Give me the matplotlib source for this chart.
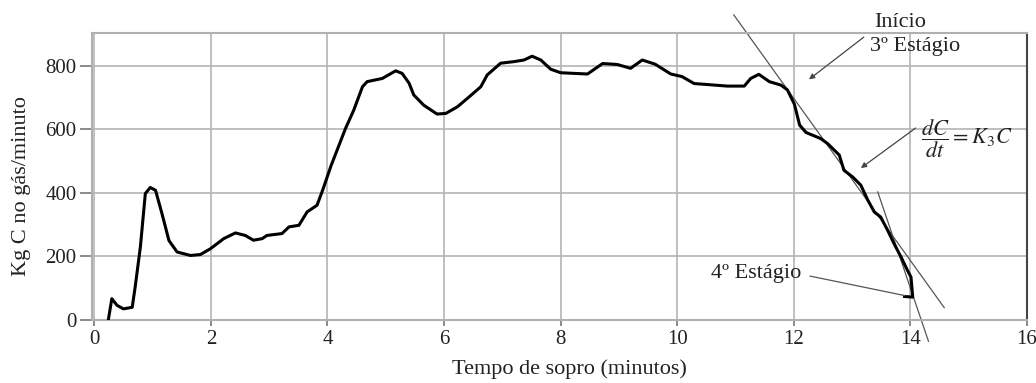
import matplotlib
matplotlib.use("Agg")
import matplotlib.pyplot as plt

plt.rcParams["font.family"] = ["Liberation Serif", "DejaVu Serif"]
plt.rcParams["mathtext.fontset"] = "stix"

# carbon rate in the off-gas during the blow
tempo = [0.24, 0.30, 0.39, 0.50, 0.65, 0.70, 0.79, 0.875, 0.96, 1.05, 1.16, 1.28,
         1.42, 1.65, 1.82, 1.99, 2.22, 2.42, 2.59, 2.73, 2.88, 2.96, 3.22, 3.34,
         3.51, 3.65, 3.82, 3.92, 4.06, 4.31, 4.45, 4.60, 4.68, 4.94, 5.17, 5.28,
         5.40, 5.48, 5.65, 5.88, 6.03, 6.23, 6.43, 6.63, 6.74, 6.97, 7.20, 7.37,
         7.51, 7.66, 7.83, 8.00, 8.46, 8.72, 8.97, 9.20, 9.40, 9.62, 9.89, 10.08,
         10.29, 10.58, 10.86, 11.15, 11.26, 11.40, 11.58, 11.78, 11.89, 12.01,
         12.10, 12.21, 12.46, 12.58, 12.78, 12.86, 13.01, 13.15, 13.27, 13.38,
         13.49, 13.61, 13.72, 13.84, 13.95, 14.01, 14.04, 13.90]
carbono = [0, 67, 46, 35, 40, 103, 230, 398, 417, 408, 335, 250,
           214, 203, 206, 224, 256, 274, 266, 251, 256, 266, 272, 293,
           298, 340, 361, 410, 485, 603, 660, 734, 750, 760, 784, 776,
           745, 708, 676, 648, 650, 671, 702, 734, 771, 808, 813, 818,
           830, 818, 789, 778, 774, 807, 804, 792, 818, 805, 774, 766,
           744, 740, 736, 736, 760, 773, 750, 739, 724, 679,
           613, 590, 571, 555, 519, 471, 450, 424, 377, 340,
           324, 282, 240, 198, 156, 135, 72, 74]

# tangent lines for the 3rd and 4th stages (t, C at both ends)
tang3_t = [10.97, 14.58]
tang3_c = [960, 39]
tang4_t = [13.44, 14.31]
tang4_c = [403, -67]

xticks = [0, 2, 4, 6, 8, 10, 12, 14, 16]
yticks = [0, 200, 400, 600, 800]

fig = plt.figure(figsize=(10.36, 3.83), dpi=100)
ax = fig.add_axes([0.0888, 0.1645, 0.9025, 0.7493])

ax.plot(tempo, carbono, color="black", lw=2.2, solid_joinstyle="round", zorder=3)
ax.plot(tang3_t, tang3_c, color="#555555", lw=0.9, clip_on=False, zorder=2)
ax.plot(tang4_t, tang4_c, color="#555555", lw=0.9, clip_on=False, zorder=2)

ax.set_xlim(-0.04, 16)
ax.set_ylim(0, 903)
ax.set_xticks(xticks)
ax.set_yticks(yticks)
ax.grid(True, color="#b4b4b4", lw=1.2)
ax.set_axisbelow(True)
ax.tick_params(axis="both", labelsize=15, colors="#222222")
ax.tick_params(axis="y", length=9, width=1.2, color="#777777", pad=2)
ax.tick_params(axis="x", length=4, width=1.2, color="#777777", pad=3)
for side in ["top", "left", "bottom"]:
    ax.spines[side].set_color("#b0b0b0")
    ax.spines[side].set_linewidth(1.5)
ax.spines["right"].set_color("#444444")
ax.spines["right"].set_linewidth(1.5)

ax.set_xlabel("Tempo de sopro (minutos)", fontsize=16, color="#222222")
ax.set_ylabel("Kg C no gás/minuto", fontsize=16, color="#222222")
ax.xaxis.set_label_coords(0.511, -0.136)
ax.yaxis.set_label_coords(-0.065, 0.467)

arrow = dict(arrowstyle="-|>", color="#444444", lw=0.9, mutation_scale=8,
             shrinkA=0, shrinkB=0)

ax.text(13.83, 935, "Início", fontsize=16, ha="center", va="center",
        color="#222222", clip_on=False)
ax.text(13.31, 860, "3º Estágio", fontsize=16, ha="left", va="center",
        color="#222222", clip_on=False)
ax.annotate("", xy=(12.26, 757), xytext=(13.2, 890), arrowprops=arrow,
            annotation_clip=False)

ax.text(14.18, 572, r"$\dfrac{dC}{dt} = K_3C$", fontsize=16, ha="left",
        va="center", color="#222222")
ax.annotate("", xy=(13.15, 478), xytext=(14.09, 604), arrowprops=arrow)

ax.text(12.13, 147, "4º Estágio", fontsize=16, ha="right", va="center",
        color="#222222")
ax.annotate("", xy=(13.95, 75), xytext=(12.23, 140),
            arrowprops=dict(arrowstyle="-", color="#555555", lw=0.9))

fig.savefig("out.png", dpi=100)
